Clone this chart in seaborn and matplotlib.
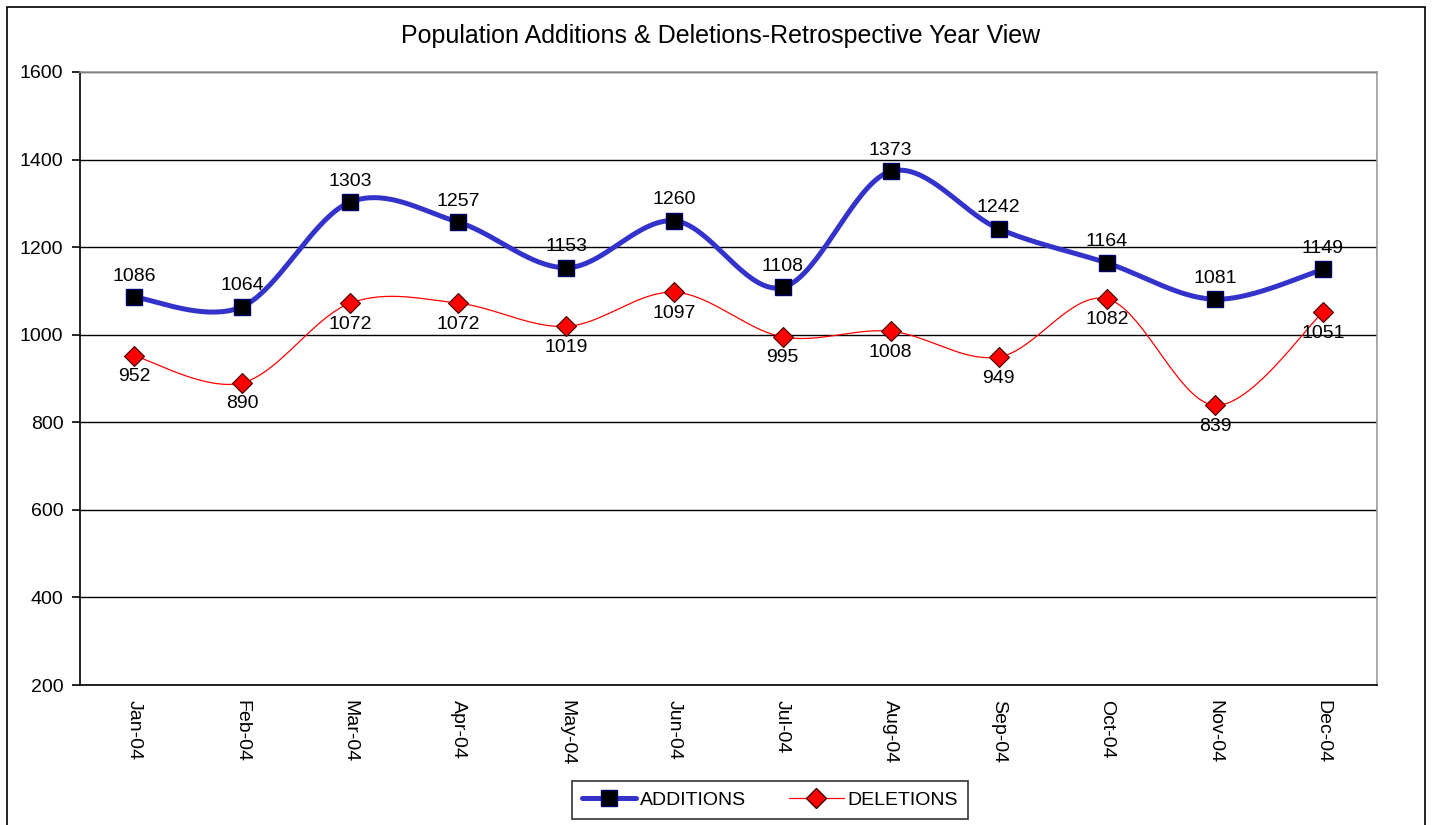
import numpy as np
import pandas as pd
import seaborn as sns
import matplotlib.pyplot as plt
from matplotlib.lines import Line2D
from matplotlib.patches import Rectangle

months = ['Jan-04', 'Feb-04', 'Mar-04', 'Apr-04', 'May-04', 'Jun-04',
          'Jul-04', 'Aug-04', 'Sep-04', 'Oct-04', 'Nov-04', 'Dec-04']
additions = [1086, 1064, 1303, 1257, 1153, 1260, 1108, 1373, 1242, 1164, 1081, 1149]
deletions = [952, 890, 1072, 1072, 1019, 1097, 995, 1008, 949, 1082, 839, 1051]


def smooth(y, n=40):
    # excel-style smoothed line (catmull-rom as cubic bezier)
    x = np.arange(len(y), dtype=float)
    y = np.asarray(y, dtype=float)
    px = np.concatenate([[x[0]], x, [x[-1]]])
    py = np.concatenate([[y[0]], y, [y[-1]]])
    t = np.linspace(0, 1, n)[:, None]
    xs, ys = [], []
    for i in range(1, len(px) - 2):
        p0 = np.array([px[i], py[i]])
        p3 = np.array([px[i + 1], py[i + 1]])
        p1 = p0 + (np.array([px[i + 1], py[i + 1]]) - np.array([px[i - 1], py[i - 1]])) / 6
        p2 = p3 - (np.array([px[i + 2], py[i + 2]]) - np.array([px[i], py[i]])) / 6
        b = ((1 - t) ** 3) * p0 + 3 * ((1 - t) ** 2) * t * p1 + 3 * (1 - t) * t ** 2 * p2 + t ** 3 * p3
        xs.append(b[:, 0])
        ys.append(b[:, 1])
    return np.concatenate(xs), np.concatenate(ys)


sns.set_style("white")
plt.rcParams['font.family'] = ['Liberation Sans', 'DejaVu Sans']
plt.rcParams['text.color'] = 'black'
plt.rcParams['xtick.color'] = 'black'
plt.rcParams['ytick.color'] = 'black'
fs = 14

fig = plt.figure(figsize=(14.35, 8.25), dpi=100)
ax = fig.add_axes([80 / 1435, 1 - 685 / 825, 1297 / 1435, 613 / 825])

fig.patches.append(Rectangle((7 / 1435, -0.1), 1418 / 1435, 1.1 - 7 / 825,
                             transform=fig.transFigure, fill=False,
                             edgecolor='black', linewidth=1.2, zorder=0))

blue = '#3333CC'
red = '#FF0000'

ax_x, ax_y = smooth(additions)
dl_x, dl_y = smooth(deletions)
sns.lineplot(x=ax_x, y=ax_y, ax=ax, color=blue, linewidth=3.6, sort=False, zorder=3)
sns.lineplot(x=dl_x, y=dl_y, ax=ax, color=red, linewidth=0.9, sort=False, zorder=3)

pos = np.arange(len(months))
ax.plot(pos, additions, linestyle='none', marker='s', markersize=11,
        markerfacecolor='black', markeredgecolor='#000066', zorder=4)
ax.plot(pos, deletions, linestyle='none', marker='D', markersize=10,
        markerfacecolor=red, markeredgecolor='#400000', markeredgewidth=0.8, zorder=4)

for i, v in enumerate(additions):
    ax.annotate(str(v), (i, v), xytext=(0, 9), textcoords='offset points',
                ha='center', va='bottom', fontsize=fs, zorder=5)
for i, v in enumerate(deletions):
    ax.annotate(str(v), (i, v), xytext=(0, -9), textcoords='offset points',
                ha='center', va='top', fontsize=fs, zorder=5)

ax.set_xlim(-0.5, len(months) - 0.5)
ax.set_ylim(200, 1600)
ax.set_yticks(range(200, 1601, 200))
ax.yaxis.grid(True, color='black', linewidth=1)
ax.xaxis.grid(False)
ax.set_axisbelow(True)

ax.set_xticks(pos)
ax.set_xticklabels(months, rotation=270, fontsize=fs)
ax.set_xticks(np.arange(-0.5, len(months), 1), minor=True)
ax.tick_params(axis='x', which='major', length=0, pad=11)
ax.tick_params(axis='x', which='minor', length=6, width=1.2, color='black', direction='out')
ax.tick_params(axis='y', length=6, width=1.2, color='black', direction='out', pad=6, labelsize=fs, left=True)

for s in ['left', 'bottom']:
    ax.spines[s].set_color('black')
    ax.spines[s].set_linewidth(1.2)
for s in ['top', 'right']:
    ax.spines[s].set_color('#999999')
    ax.spines[s].set_linewidth(1.2)

fig.text(721 / 1435, 1 - 36 / 825, 'Population Additions & Deletions-Retrospective Year View',
         ha='center', va='center', fontsize=18)

handles = [
    Line2D([], [], color=blue, linewidth=3.6, marker='s', markersize=11,
           markerfacecolor='black', markeredgecolor='#000066'),
    Line2D([], [], color=red, linewidth=0.9, marker='D', markersize=10,
           markerfacecolor=red, markeredgecolor='#400000'),
]
leg = fig.legend(handles, ['ADDITIONS', 'DELETIONS'], loc='center',
                 bbox_to_anchor=(770 / 1435, 1 - 800 / 825), ncol=2, frameon=True,
                 fancybox=False, edgecolor='black', fontsize=fs, handlelength=2.8,
                 handletextpad=0.2, columnspacing=2.2, borderpad=0.5)
leg.get_frame().set_linewidth(1.2)

fig.savefig('out.png', dpi=100)
